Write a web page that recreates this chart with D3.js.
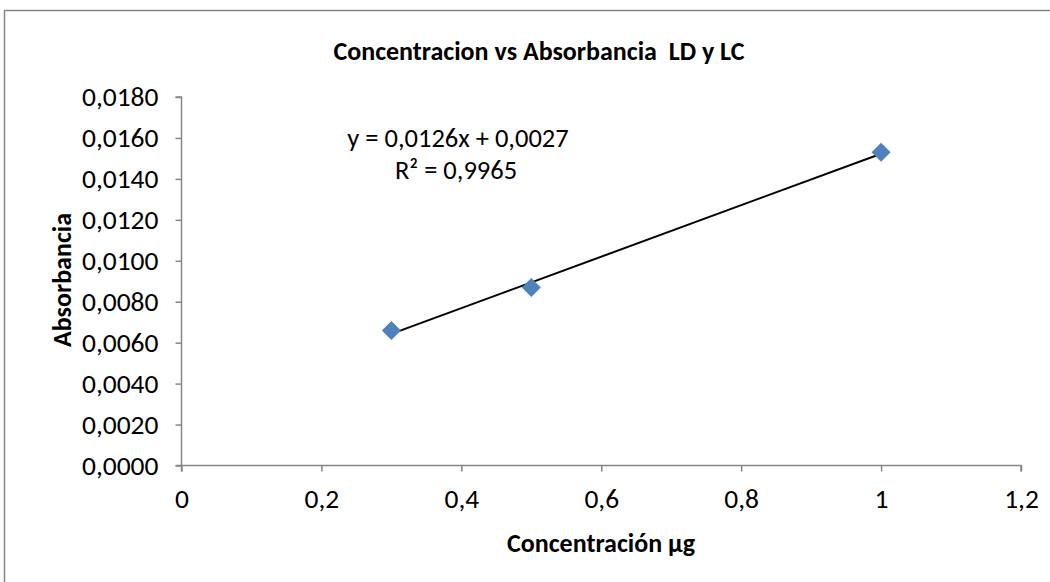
<!DOCTYPE html>
<html>
<head>
<meta charset="utf-8">
<script src="https://cdn.jsdelivr.net/npm/d3@7"></script>
<style>
  body { margin: 0; background: #fff; }
  svg text { font-family: Carlito, "Liberation Sans Narrow", "Open Sans", sans-serif; fill: #000; white-space: pre; }
</style>
</head>
<body>
<svg id="chart" width="1050" height="582"></svg>
<script>
// datos del gráfico
const concentracion = [0.3, 0.5, 1];
const absorbancia = [0.0066, 0.0087, 0.0153];
const ticksX = [0, 0.2, 0.4, 0.6, 0.8, 1, 1.2];
const ticksY = [0, 0.002, 0.004, 0.006, 0.008, 0.01, 0.012, 0.014, 0.016, 0.018];
const titulo = 'Concentracion vs Absorbancia  LD y LC';
const tituloX = 'Concentración µg';
const tituloY = 'Absorbancia';
const ecuacion = 'y = 0,0126x + 0,0027';
const r2 = 'R² = 0,9965';

const margen = { superior: 97, derecho: 29, inferior: 116.5, izquierdo: 181.5 };
const ancho = 1050 - margen.izquierdo - margen.derecho;
const alto = 582 - margen.superior - margen.inferior;

const svg = d3.select('#chart');

// borde del área del gráfico
svg.append('rect')
  .attr('x', 4.5).attr('y', 10.5)
  .attr('width', 1050).attr('height', 600)
  .attr('fill', 'none')
  .attr('stroke', '#868686')
  .attr('stroke-width', 1.5);

const g = svg.append('g')
  .attr('transform', `translate(${margen.izquierdo}, ${margen.superior})`);

const escalaX = d3.scaleLinear().domain([0, 1.2]).range([0, ancho]);
const escalaY = d3.scaleLinear().domain([0, 0.018]).range([alto, 0]);

const coma = f => v => d3.format(f)(v).replace('.', ',');

const ejeX = d3.axisBottom(escalaX).tickValues(ticksX).tickSize(6).tickPadding(17)
  .tickFormat(v => String(+v.toFixed(1)).replace('.', ','));
const ejeY = d3.axisLeft(escalaY).tickValues(ticksY).tickSize(6).tickPadding(17)
  .tickFormat(coma('.4f'));

const gx = g.append('g').attr('transform', `translate(0, ${alto})`).call(ejeX);
const gy = g.append('g').call(ejeY);

[gx, gy].forEach(ax => {
  ax.select('.domain').attr('stroke', '#868686').attr('stroke-width', 1.5);
  ax.selectAll('.tick line').attr('stroke', '#868686').attr('stroke-width', 1.5);
  ax.selectAll('.tick text').style('font-size', '27.5px').attr('fill', '#000');
});
gx.select('.domain').attr('d', `M0,6V0H${ancho}V6`);
gy.select('.domain').attr('d', `M-6,0H0V${alto}H-6`);

// línea de tendencia (regresión lineal)
const mx = d3.mean(concentracion), my = d3.mean(absorbancia);
const sxy = d3.sum(concentracion, (x, i) => (x - mx) * (absorbancia[i] - my));
const sxx = d3.sum(concentracion, x => (x - mx) ** 2);
const pendiente = sxy / sxx;
const intercepto = my - pendiente * mx;
const extremos = d3.extent(concentracion);

g.append('line')
  .attr('x1', escalaX(extremos[0])).attr('y1', escalaY(pendiente * extremos[0] + intercepto))
  .attr('x2', escalaX(extremos[1])).attr('y2', escalaY(pendiente * extremos[1] + intercepto))
  .attr('stroke', '#000')
  .attr('stroke-width', 2);

// puntos en forma de rombo
g.selectAll('.punto')
  .data(concentracion)
  .enter()
  .append('path')
  .attr('class', 'punto')
  .attr('d', 'M0,-9.5L9.5,0L0,9.5L-9.5,0Z')
  .attr('transform', (d, i) => `translate(${escalaX(d)}, ${escalaY(absorbancia[i])})`)
  .attr('fill', '#4f81bd');

// textos
svg.append('text')
  .attr('x', 539).attr('y', 60)
  .attr('text-anchor', 'middle')
  .style('font-size', '26px').style('font-weight', 'bold')
  .text(titulo);

svg.append('text')
  .attr('x', 601).attr('y', 552)
  .attr('text-anchor', 'middle')
  .style('font-size', '26px').style('font-weight', 'bold')
  .text(tituloX);

svg.append('text')
  .attr('transform', 'translate(71, 280) rotate(-90)')
  .attr('text-anchor', 'middle')
  .style('font-size', '26px').style('font-weight', 'bold')
  .text(tituloY);

svg.append('text')
  .attr('x', 458).attr('y', 147)
  .attr('text-anchor', 'middle')
  .style('font-size', '26.5px')
  .text(ecuacion);

svg.append('text')
  .attr('x', 456).attr('y', 179)
  .attr('text-anchor', 'middle')
  .style('font-size', '26.5px')
  .text(r2);
</script>
</body>
</html>
